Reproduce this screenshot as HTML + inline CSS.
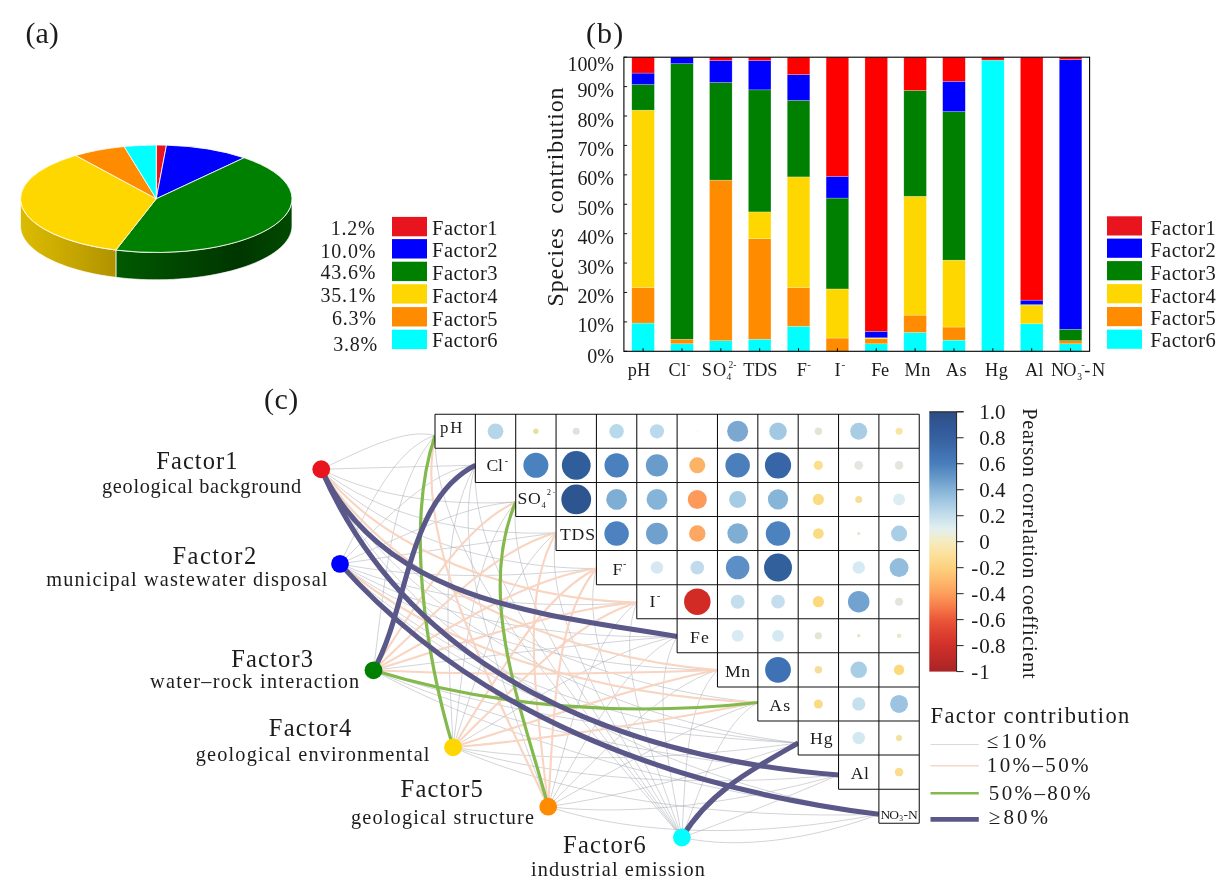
<!DOCTYPE html>
<html><head><meta charset="utf-8"><title>figure</title>
<style>html,body{margin:0;padding:0;background:#fff}svg{display:block;font-family:"Liberation Serif",serif;will-change:transform}</style></head>
<body>
<svg width="1224" height="884" viewBox="0 0 1224 884">
<rect width="1224" height="884" fill="#ffffff"/>
<text x="25.60" y="42.50" font-size="30" text-anchor="start" textLength="33.20" lengthAdjust="spacing" fill="#1c1c1c" >(a)</text>
<defs><linearGradient id="gy" gradientUnits="userSpaceOnUse" x1="20" y1="0" x2="116" y2="0"><stop offset="0" stop-color="#dcbc00"/><stop offset="0.5" stop-color="#c8a800"/><stop offset="1" stop-color="#b09200"/></linearGradient><linearGradient id="gg" gradientUnits="userSpaceOnUse" x1="116" y1="0" x2="292" y2="0"><stop offset="0" stop-color="#005a00"/><stop offset="0.35" stop-color="#004600"/><stop offset="0.7" stop-color="#003600"/><stop offset="1" stop-color="#004a00"/></linearGradient></defs>
<path d="M292.00,198.75 L291.85,201.27 L291.41,203.77 L290.66,206.27 L289.63,208.76 L288.30,211.22 L286.68,213.65 L284.78,216.05 L282.59,218.41 L280.13,220.73 L277.40,223.00 L274.40,225.22 L271.14,227.38 L267.63,229.48 L263.88,231.51 L259.89,233.46 L255.67,235.35 L251.24,237.15 L246.60,238.87 L241.76,240.50 L236.73,242.04 L231.53,243.48 L226.16,244.82 L220.64,246.07 L214.97,247.21 L209.18,248.25 L203.28,249.17 L197.27,249.99 L191.16,250.69 L184.99,251.28 L178.75,251.76 L172.46,252.12 L166.14,252.36 L159.79,252.48 L153.44,252.49 L147.09,252.38 L140.76,252.15 L134.47,251.80 L128.22,251.34 L122.04,250.76 L115.93,250.07 L115.93,277.37 L122.04,278.06 L128.22,278.64 L134.47,279.10 L140.76,279.45 L147.09,279.68 L153.44,279.79 L159.79,279.78 L166.14,279.66 L172.46,279.42 L178.75,279.06 L184.99,278.58 L191.16,277.99 L197.27,277.29 L203.28,276.47 L209.18,275.55 L214.97,274.51 L220.64,273.37 L226.16,272.12 L231.53,270.78 L236.73,269.34 L241.76,267.80 L246.60,266.17 L251.24,264.45 L255.67,262.65 L259.89,260.76 L263.88,258.81 L267.63,256.78 L271.14,254.68 L274.40,252.52 L277.40,250.30 L280.13,248.03 L282.59,245.71 L284.78,243.35 L286.68,240.95 L288.30,238.52 L289.63,236.06 L290.66,233.57 L291.41,231.07 L291.85,228.57 L292.00,226.05Z" fill="url(#gg)" stroke="#ffffff" stroke-width="0.7" stroke-linejoin="round"/>
<path d="M115.93,250.07 L111.83,249.54 L107.79,248.96 L103.79,248.32 L99.84,247.64 L95.95,246.91 L92.13,246.13 L88.36,245.30 L84.67,244.42 L81.04,243.50 L77.50,242.53 L74.03,241.52 L70.64,240.46 L67.34,239.37 L64.13,238.23 L61.02,237.05 L58.00,235.84 L55.07,234.59 L52.25,233.30 L49.54,231.97 L46.93,230.62 L44.43,229.23 L42.05,227.81 L39.77,226.36 L37.62,224.88 L35.59,223.38 L33.68,221.85 L31.89,220.30 L30.22,218.72 L28.69,217.13 L27.28,215.52 L26.00,213.89 L24.85,212.25 L23.83,210.59 L22.95,208.92 L22.20,207.24 L21.59,205.55 L21.11,203.86 L20.77,202.16 L20.57,200.46 L20.50,198.75 L20.50,226.05 L20.57,227.76 L20.77,229.46 L21.11,231.16 L21.59,232.85 L22.20,234.54 L22.95,236.22 L23.83,237.89 L24.85,239.55 L26.00,241.19 L27.28,242.82 L28.69,244.43 L30.22,246.02 L31.89,247.60 L33.68,249.15 L35.59,250.68 L37.62,252.18 L39.77,253.66 L42.05,255.11 L44.43,256.53 L46.93,257.92 L49.54,259.27 L52.25,260.60 L55.07,261.89 L58.00,263.14 L61.02,264.35 L64.13,265.53 L67.34,266.67 L70.64,267.76 L74.03,268.82 L77.50,269.83 L81.04,270.80 L84.67,271.72 L88.36,272.60 L92.13,273.43 L95.95,274.21 L99.84,274.94 L103.79,275.62 L107.79,276.26 L111.83,276.84 L115.93,277.37Z" fill="url(#gy)" stroke="#ffffff" stroke-width="0.7" stroke-linejoin="round"/>
<path d="M156.25,198.75 L156.25,145.00 A135.75,53.75 0 0 1 166.48,145.15 Z" fill="#e8141e" stroke="#ffffff" stroke-width="0.8" stroke-linejoin="round"/>
<path d="M156.25,198.75 L166.48,145.15 A135.75,53.75 0 0 1 244.09,157.77 Z" fill="#0000ff" stroke="#ffffff" stroke-width="0.8" stroke-linejoin="round"/>
<path d="M156.25,198.75 L244.09,157.77 A135.75,53.75 0 0 1 115.93,250.07 Z" fill="#008000" stroke="#ffffff" stroke-width="0.8" stroke-linejoin="round"/>
<path d="M156.25,198.75 L115.93,250.07 A135.75,53.75 0 0 1 75.77,155.46 Z" fill="#ffd700" stroke="#ffffff" stroke-width="0.8" stroke-linejoin="round"/>
<path d="M156.25,198.75 L75.77,155.46 A135.75,53.75 0 0 1 124.15,146.52 Z" fill="#ff8c00" stroke="#ffffff" stroke-width="0.8" stroke-linejoin="round"/>
<path d="M156.25,198.75 L124.15,146.52 A135.75,53.75 0 0 1 156.25,145.00 Z" fill="#00ffff" stroke="#ffffff" stroke-width="0.8" stroke-linejoin="round"/>
<rect x="392" y="216.9" width="35" height="19.4" fill="#e8141e"/>
<text x="432.00" y="234.80" font-size="20.5" text-anchor="start" textLength="65.50" lengthAdjust="spacing" fill="#1c1c1c" >Factor1</text>
<text x="375.50" y="235.10" font-size="20" text-anchor="end" fill="#1c1c1c" letter-spacing="0.8">1.2%</text>
<rect x="392" y="239.1" width="35" height="19.4" fill="#0000ff"/>
<text x="432.00" y="257.30" font-size="20.5" text-anchor="start" textLength="65.50" lengthAdjust="spacing" fill="#1c1c1c" >Factor2</text>
<text x="376.20" y="258.30" font-size="20" text-anchor="end" fill="#1c1c1c" letter-spacing="0.8">10.0%</text>
<rect x="392" y="261.7" width="35" height="19.4" fill="#008000"/>
<text x="432.00" y="280.40" font-size="20.5" text-anchor="start" textLength="65.50" lengthAdjust="spacing" fill="#1c1c1c" >Factor3</text>
<text x="376.20" y="279.00" font-size="20" text-anchor="end" fill="#1c1c1c" letter-spacing="0.8">43.6%</text>
<rect x="392" y="284.2" width="35" height="19.4" fill="#ffd700"/>
<text x="432.00" y="303.00" font-size="20.5" text-anchor="start" textLength="65.50" lengthAdjust="spacing" fill="#1c1c1c" >Factor4</text>
<text x="376.20" y="302.00" font-size="20" text-anchor="end" fill="#1c1c1c" letter-spacing="0.8">35.1%</text>
<rect x="392" y="307.1" width="35" height="19.4" fill="#ff8c00"/>
<text x="432.00" y="325.50" font-size="20.5" text-anchor="start" textLength="65.50" lengthAdjust="spacing" fill="#1c1c1c" >Factor5</text>
<text x="376.80" y="325.00" font-size="20" text-anchor="end" fill="#1c1c1c" letter-spacing="0.8">6.3%</text>
<rect x="392" y="329.7" width="35" height="19.4" fill="#00ffff"/>
<text x="432.00" y="346.80" font-size="20.5" text-anchor="start" textLength="65.50" lengthAdjust="spacing" fill="#1c1c1c" >Factor6</text>
<text x="378.00" y="351.00" font-size="20" text-anchor="end" fill="#1c1c1c" letter-spacing="0.8">3.8%</text>
<text x="586.00" y="42.50" font-size="30" text-anchor="start" textLength="37.20" lengthAdjust="spacing" fill="#1c1c1c" >(b)</text>
<rect x="631.80" y="323.07" width="22.6" height="28.23" fill="#00ffff" stroke="#ffffff" stroke-opacity="0.45" stroke-width="0.5"/>
<rect x="631.80" y="287.48" width="22.6" height="35.59" fill="#ff8c00" stroke="#ffffff" stroke-opacity="0.45" stroke-width="0.5"/>
<rect x="631.80" y="110.14" width="22.6" height="177.34" fill="#ffd700" stroke="#ffffff" stroke-opacity="0.45" stroke-width="0.5"/>
<rect x="631.80" y="84.55" width="22.6" height="25.59" fill="#008000" stroke="#ffffff" stroke-opacity="0.45" stroke-width="0.5"/>
<rect x="631.80" y="73.08" width="22.6" height="11.47" fill="#0000ff" stroke="#ffffff" stroke-opacity="0.45" stroke-width="0.5"/>
<rect x="631.80" y="57.20" width="22.6" height="15.88" fill="#ff0000" stroke="#ffffff" stroke-opacity="0.45" stroke-width="0.5"/>
<line x1="643.10" y1="351.3" x2="643.10" y2="348.1" stroke="#000" stroke-width="0.9"/>
<rect x="670.66" y="343.80" width="22.6" height="7.50" fill="#00ffff" stroke="#ffffff" stroke-opacity="0.45" stroke-width="0.5"/>
<rect x="670.66" y="339.24" width="22.6" height="4.56" fill="#ff8c00" stroke="#ffffff" stroke-opacity="0.45" stroke-width="0.5"/>
<rect x="670.66" y="63.67" width="22.6" height="275.57" fill="#008000" stroke="#ffffff" stroke-opacity="0.45" stroke-width="0.5"/>
<rect x="670.66" y="57.20" width="22.6" height="6.47" fill="#0000ff" stroke="#ffffff" stroke-opacity="0.45" stroke-width="0.5"/>
<line x1="681.96" y1="351.3" x2="681.96" y2="348.1" stroke="#000" stroke-width="0.9"/>
<rect x="709.52" y="340.71" width="22.6" height="10.59" fill="#00ffff" stroke="#ffffff" stroke-opacity="0.45" stroke-width="0.5"/>
<rect x="709.52" y="180.13" width="22.6" height="160.58" fill="#ff8c00" stroke="#ffffff" stroke-opacity="0.45" stroke-width="0.5"/>
<rect x="709.52" y="82.49" width="22.6" height="97.64" fill="#008000" stroke="#ffffff" stroke-opacity="0.45" stroke-width="0.5"/>
<rect x="709.52" y="60.44" width="22.6" height="22.06" fill="#0000ff" stroke="#ffffff" stroke-opacity="0.45" stroke-width="0.5"/>
<rect x="709.52" y="57.20" width="22.6" height="3.24" fill="#ff0000" stroke="#ffffff" stroke-opacity="0.45" stroke-width="0.5"/>
<line x1="720.82" y1="351.3" x2="720.82" y2="348.1" stroke="#000" stroke-width="0.9"/>
<rect x="748.38" y="339.24" width="22.6" height="12.06" fill="#00ffff" stroke="#ffffff" stroke-opacity="0.45" stroke-width="0.5"/>
<rect x="748.38" y="238.66" width="22.6" height="100.58" fill="#ff8c00" stroke="#ffffff" stroke-opacity="0.45" stroke-width="0.5"/>
<rect x="748.38" y="211.90" width="22.6" height="26.76" fill="#ffd700" stroke="#ffffff" stroke-opacity="0.45" stroke-width="0.5"/>
<rect x="748.38" y="89.85" width="22.6" height="122.05" fill="#008000" stroke="#ffffff" stroke-opacity="0.45" stroke-width="0.5"/>
<rect x="748.38" y="60.44" width="22.6" height="29.41" fill="#0000ff" stroke="#ffffff" stroke-opacity="0.45" stroke-width="0.5"/>
<rect x="748.38" y="57.20" width="22.6" height="3.24" fill="#ff0000" stroke="#ffffff" stroke-opacity="0.45" stroke-width="0.5"/>
<line x1="759.68" y1="351.3" x2="759.68" y2="348.1" stroke="#000" stroke-width="0.9"/>
<rect x="787.24" y="326.30" width="22.6" height="25.00" fill="#00ffff" stroke="#ffffff" stroke-opacity="0.45" stroke-width="0.5"/>
<rect x="787.24" y="287.48" width="22.6" height="38.82" fill="#ff8c00" stroke="#ffffff" stroke-opacity="0.45" stroke-width="0.5"/>
<rect x="787.24" y="176.90" width="22.6" height="110.58" fill="#ffd700" stroke="#ffffff" stroke-opacity="0.45" stroke-width="0.5"/>
<rect x="787.24" y="100.43" width="22.6" height="76.47" fill="#008000" stroke="#ffffff" stroke-opacity="0.45" stroke-width="0.5"/>
<rect x="787.24" y="74.55" width="22.6" height="25.88" fill="#0000ff" stroke="#ffffff" stroke-opacity="0.45" stroke-width="0.5"/>
<rect x="787.24" y="57.20" width="22.6" height="17.35" fill="#ff0000" stroke="#ffffff" stroke-opacity="0.45" stroke-width="0.5"/>
<line x1="798.54" y1="351.3" x2="798.54" y2="348.1" stroke="#000" stroke-width="0.9"/>
<rect x="826.10" y="338.07" width="22.6" height="13.23" fill="#ff8c00" stroke="#ffffff" stroke-opacity="0.45" stroke-width="0.5"/>
<rect x="826.10" y="288.95" width="22.6" height="49.11" fill="#ffd700" stroke="#ffffff" stroke-opacity="0.45" stroke-width="0.5"/>
<rect x="826.10" y="198.07" width="22.6" height="90.88" fill="#008000" stroke="#ffffff" stroke-opacity="0.45" stroke-width="0.5"/>
<rect x="826.10" y="176.31" width="22.6" height="21.76" fill="#0000ff" stroke="#ffffff" stroke-opacity="0.45" stroke-width="0.5"/>
<rect x="826.10" y="57.20" width="22.6" height="119.11" fill="#ff0000" stroke="#ffffff" stroke-opacity="0.45" stroke-width="0.5"/>
<line x1="837.40" y1="351.3" x2="837.40" y2="348.1" stroke="#000" stroke-width="0.9"/>
<rect x="864.96" y="343.80" width="22.6" height="7.50" fill="#00ffff" stroke="#ffffff" stroke-opacity="0.45" stroke-width="0.5"/>
<rect x="864.96" y="338.80" width="22.6" height="5.00" fill="#ff8c00" stroke="#ffffff" stroke-opacity="0.45" stroke-width="0.5"/>
<rect x="864.96" y="337.77" width="22.6" height="1.03" fill="#ffd700" stroke="#ffffff" stroke-opacity="0.45" stroke-width="0.5"/>
<rect x="864.96" y="331.30" width="22.6" height="6.47" fill="#0000ff" stroke="#ffffff" stroke-opacity="0.45" stroke-width="0.5"/>
<rect x="864.96" y="57.20" width="22.6" height="274.10" fill="#ff0000" stroke="#ffffff" stroke-opacity="0.45" stroke-width="0.5"/>
<line x1="876.26" y1="351.3" x2="876.26" y2="348.1" stroke="#000" stroke-width="0.9"/>
<rect x="903.82" y="332.48" width="22.6" height="18.82" fill="#00ffff" stroke="#ffffff" stroke-opacity="0.45" stroke-width="0.5"/>
<rect x="903.82" y="315.13" width="22.6" height="17.35" fill="#ff8c00" stroke="#ffffff" stroke-opacity="0.45" stroke-width="0.5"/>
<rect x="903.82" y="196.31" width="22.6" height="118.82" fill="#ffd700" stroke="#ffffff" stroke-opacity="0.45" stroke-width="0.5"/>
<rect x="903.82" y="90.43" width="22.6" height="105.88" fill="#008000" stroke="#ffffff" stroke-opacity="0.45" stroke-width="0.5"/>
<rect x="903.82" y="57.20" width="22.6" height="33.23" fill="#ff0000" stroke="#ffffff" stroke-opacity="0.45" stroke-width="0.5"/>
<line x1="915.12" y1="351.3" x2="915.12" y2="348.1" stroke="#000" stroke-width="0.9"/>
<rect x="942.68" y="340.12" width="22.6" height="11.18" fill="#00ffff" stroke="#ffffff" stroke-opacity="0.45" stroke-width="0.5"/>
<rect x="942.68" y="327.04" width="22.6" height="13.09" fill="#ff8c00" stroke="#ffffff" stroke-opacity="0.45" stroke-width="0.5"/>
<rect x="942.68" y="260.13" width="22.6" height="66.91" fill="#ffd700" stroke="#ffffff" stroke-opacity="0.45" stroke-width="0.5"/>
<rect x="942.68" y="111.61" width="22.6" height="148.52" fill="#008000" stroke="#ffffff" stroke-opacity="0.45" stroke-width="0.5"/>
<rect x="942.68" y="81.32" width="22.6" height="30.29" fill="#0000ff" stroke="#ffffff" stroke-opacity="0.45" stroke-width="0.5"/>
<rect x="942.68" y="57.20" width="22.6" height="24.12" fill="#ff0000" stroke="#ffffff" stroke-opacity="0.45" stroke-width="0.5"/>
<line x1="953.98" y1="351.3" x2="953.98" y2="348.1" stroke="#000" stroke-width="0.9"/>
<rect x="981.54" y="60.14" width="22.6" height="291.16" fill="#00ffff" stroke="#ffffff" stroke-opacity="0.45" stroke-width="0.5"/>
<rect x="981.54" y="57.20" width="22.6" height="2.94" fill="#ff0000" stroke="#ffffff" stroke-opacity="0.45" stroke-width="0.5"/>
<line x1="992.84" y1="351.3" x2="992.84" y2="348.1" stroke="#000" stroke-width="0.9"/>
<rect x="1020.40" y="323.80" width="22.6" height="27.50" fill="#00ffff" stroke="#ffffff" stroke-opacity="0.45" stroke-width="0.5"/>
<rect x="1020.40" y="305.13" width="22.6" height="18.68" fill="#ffd700" stroke="#ffffff" stroke-opacity="0.45" stroke-width="0.5"/>
<rect x="1020.40" y="304.54" width="22.6" height="0.59" fill="#008000" stroke="#ffffff" stroke-opacity="0.45" stroke-width="0.5"/>
<rect x="1020.40" y="300.13" width="22.6" height="4.41" fill="#0000ff" stroke="#ffffff" stroke-opacity="0.45" stroke-width="0.5"/>
<rect x="1020.40" y="57.20" width="22.6" height="242.93" fill="#ff0000" stroke="#ffffff" stroke-opacity="0.45" stroke-width="0.5"/>
<line x1="1031.70" y1="351.3" x2="1031.70" y2="348.1" stroke="#000" stroke-width="0.9"/>
<rect x="1059.26" y="343.80" width="22.6" height="7.50" fill="#00ffff" stroke="#ffffff" stroke-opacity="0.45" stroke-width="0.5"/>
<rect x="1059.26" y="340.71" width="22.6" height="3.09" fill="#ff8c00" stroke="#ffffff" stroke-opacity="0.45" stroke-width="0.5"/>
<rect x="1059.26" y="329.24" width="22.6" height="11.47" fill="#008000" stroke="#ffffff" stroke-opacity="0.45" stroke-width="0.5"/>
<rect x="1059.26" y="59.55" width="22.6" height="269.69" fill="#0000ff" stroke="#ffffff" stroke-opacity="0.45" stroke-width="0.5"/>
<rect x="1059.26" y="57.20" width="22.6" height="2.35" fill="#ff0000" stroke="#ffffff" stroke-opacity="0.45" stroke-width="0.5"/>
<line x1="1070.56" y1="351.3" x2="1070.56" y2="348.1" stroke="#000" stroke-width="0.9"/>
<rect x="623.9" y="57.2" width="465.70" height="294.10" fill="none" stroke="#000" stroke-width="1.1"/>
<line x1="623.9" y1="351.30" x2="627.1" y2="351.30" stroke="#000" stroke-width="0.9"/>
<text x="613.80" y="362.50" font-size="20" text-anchor="end" fill="#1c1c1c" letter-spacing="-0.1">0%</text>
<line x1="623.9" y1="321.89" x2="627.1" y2="321.89" stroke="#000" stroke-width="0.9"/>
<text x="613.80" y="332.49" font-size="20" text-anchor="end" fill="#1c1c1c" letter-spacing="-0.1">10%</text>
<line x1="623.9" y1="292.48" x2="627.1" y2="292.48" stroke="#000" stroke-width="0.9"/>
<text x="613.80" y="303.08" font-size="20" text-anchor="end" fill="#1c1c1c" letter-spacing="-0.1">20%</text>
<line x1="623.9" y1="263.07" x2="627.1" y2="263.07" stroke="#000" stroke-width="0.9"/>
<text x="613.80" y="273.67" font-size="20" text-anchor="end" fill="#1c1c1c" letter-spacing="-0.1">30%</text>
<line x1="623.9" y1="233.66" x2="627.1" y2="233.66" stroke="#000" stroke-width="0.9"/>
<text x="613.80" y="244.26" font-size="20" text-anchor="end" fill="#1c1c1c" letter-spacing="-0.1">40%</text>
<line x1="623.9" y1="204.25" x2="627.1" y2="204.25" stroke="#000" stroke-width="0.9"/>
<text x="613.80" y="214.85" font-size="20" text-anchor="end" fill="#1c1c1c" letter-spacing="-0.1">50%</text>
<line x1="623.9" y1="174.84" x2="627.1" y2="174.84" stroke="#000" stroke-width="0.9"/>
<text x="613.80" y="185.44" font-size="20" text-anchor="end" fill="#1c1c1c" letter-spacing="-0.1">60%</text>
<line x1="623.9" y1="145.43" x2="627.1" y2="145.43" stroke="#000" stroke-width="0.9"/>
<text x="613.80" y="156.03" font-size="20" text-anchor="end" fill="#1c1c1c" letter-spacing="-0.1">70%</text>
<line x1="623.9" y1="116.02" x2="627.1" y2="116.02" stroke="#000" stroke-width="0.9"/>
<text x="613.80" y="126.62" font-size="20" text-anchor="end" fill="#1c1c1c" letter-spacing="-0.1">80%</text>
<line x1="623.9" y1="86.61" x2="627.1" y2="86.61" stroke="#000" stroke-width="0.9"/>
<text x="613.80" y="97.21" font-size="20" text-anchor="end" fill="#1c1c1c" letter-spacing="-0.1">90%</text>
<line x1="623.9" y1="57.20" x2="627.1" y2="57.20" stroke="#000" stroke-width="0.9"/>
<text x="613.80" y="70.50" font-size="20" text-anchor="end" fill="#1c1c1c" letter-spacing="-0.1">100%</text>
<text transform="translate(563.3,306.4) rotate(-90)" font-size="24" textLength="219.0" lengthAdjust="spacing" fill="#1c1c1c">Species&#160; contribution</text>
<text x="627.80" y="376.00" font-size="18.3" text-anchor="start" textLength="22.40" lengthAdjust="spacing" fill="#1c1c1c" >pH</text>
<text x="668.60" y="376.00" font-size="18.3" text-anchor="start" textLength="17.80" lengthAdjust="spacing" fill="#1c1c1c" >Cl</text>
<text x="686.80" y="367.50" font-size="11" text-anchor="start" fill="#1c1c1c" >-</text>
<text x="701.70" y="376.00" font-size="18.3" text-anchor="start" textLength="24.50" lengthAdjust="spacing" fill="#1c1c1c" >SO</text>
<text x="726.40" y="379.60" font-size="9.5" text-anchor="start" fill="#1c1c1c" >4</text>
<text x="728.60" y="368.00" font-size="9.5" text-anchor="start" fill="#1c1c1c" >2-</text>
<text x="743.20" y="376.00" font-size="18.3" text-anchor="start" textLength="34.10" lengthAdjust="spacing" fill="#1c1c1c" >TDS</text>
<text x="796.70" y="376.00" font-size="18.3" text-anchor="start" fill="#1c1c1c" >F</text>
<text x="807.20" y="367.50" font-size="11" text-anchor="start" fill="#1c1c1c" >-</text>
<text x="834.50" y="376.00" font-size="18.3" text-anchor="start" textLength="7.10" lengthAdjust="spacing" fill="#1c1c1c" >I</text>
<text x="841.40" y="367.50" font-size="11" text-anchor="start" fill="#1c1c1c" >-</text>
<text x="871.20" y="376.00" font-size="18.3" text-anchor="start" textLength="17.80" lengthAdjust="spacing" fill="#1c1c1c" >Fe</text>
<text x="904.50" y="376.00" font-size="18.3" text-anchor="start" textLength="26.00" lengthAdjust="spacing" fill="#1c1c1c" >Mn</text>
<text x="945.80" y="376.00" font-size="18.3" text-anchor="start" textLength="20.80" lengthAdjust="spacing" fill="#1c1c1c" >As</text>
<text x="985.00" y="376.00" font-size="18.3" text-anchor="start" textLength="23.00" lengthAdjust="spacing" fill="#1c1c1c" >Hg</text>
<text x="1025.00" y="376.00" font-size="18.3" text-anchor="start" textLength="18.40" lengthAdjust="spacing" fill="#1c1c1c" >Al</text>
<text x="1051.00" y="376.00" font-size="18.3" text-anchor="start" textLength="25.50" lengthAdjust="spacing" fill="#1c1c1c" >NO</text>
<text x="1077.30" y="379.60" font-size="9.5" text-anchor="start" fill="#1c1c1c" >3</text>
<text x="1081.20" y="367.50" font-size="11" text-anchor="start" fill="#1c1c1c" >-</text>
<text x="1084.30" y="376.00" font-size="18.3" text-anchor="start" textLength="20.80" lengthAdjust="spacing" fill="#1c1c1c" >-N</text>
<rect x="1107" y="216.3" width="35" height="19.2" fill="#e8141e"/>
<text x="1150.20" y="234.70" font-size="20.5" text-anchor="start" textLength="65.60" lengthAdjust="spacing" fill="#1c1c1c" >Factor1</text>
<rect x="1107" y="238.6" width="35" height="19.2" fill="#0000ff"/>
<text x="1150.20" y="257.30" font-size="20.5" text-anchor="start" textLength="65.60" lengthAdjust="spacing" fill="#1c1c1c" >Factor2</text>
<rect x="1107" y="261.1" width="35" height="19.2" fill="#008000"/>
<text x="1150.20" y="280.40" font-size="20.5" text-anchor="start" textLength="65.60" lengthAdjust="spacing" fill="#1c1c1c" >Factor3</text>
<rect x="1107" y="284.1" width="35" height="19.2" fill="#ffd700"/>
<text x="1150.20" y="302.90" font-size="20.5" text-anchor="start" textLength="65.60" lengthAdjust="spacing" fill="#1c1c1c" >Factor4</text>
<rect x="1107" y="307.0" width="35" height="19.2" fill="#ff8c00"/>
<text x="1150.20" y="325.40" font-size="20.5" text-anchor="start" textLength="65.60" lengthAdjust="spacing" fill="#1c1c1c" >Factor5</text>
<rect x="1107" y="329.6" width="35" height="19.2" fill="#00ffff"/>
<text x="1150.20" y="346.60" font-size="20.5" text-anchor="start" textLength="65.60" lengthAdjust="spacing" fill="#1c1c1c" >Factor6</text>
<text x="264.00" y="408.50" font-size="30" text-anchor="start" textLength="34.30" lengthAdjust="spacing" fill="#1c1c1c" >(c)</text>
<g fill="none" stroke="#a6a9b0" stroke-width="0.5" stroke-linecap="butt">
<path d="M321.2,469.2 C366.4,448.1 405.0,428.1 435.0,435.5"/>
<path d="M321.2,469.2 C386.0,467.5 435.3,466.2 475.4,465.2"/>
<path d="M321.2,469.2 C373.7,496.5 444.8,506.2 515.7,502.0"/>
<path d="M321.2,469.2 C377.8,515.5 468.6,536.4 556.1,532.8"/>
<path d="M321.2,469.2 C380.4,534.1 491.1,569.0 596.4,568.5"/>
<path d="M321.2,469.2 C396.1,597.5 580.4,686.3 757.8,702.5"/>
<path d="M321.2,469.2 C398.8,614.9 601.5,720.2 798.2,743.0"/>
<path d="M321.2,469.2 C406.5,646.5 645.2,780.8 878.9,814.3"/>
<path d="M340.0,563.9 C369.8,503.8 395.4,448.0 435.0,435.5"/>
<path d="M340.0,563.9 C389.9,514.3 432.0,469.2 475.4,465.2"/>
<path d="M340.0,563.9 C411.5,532.0 467.3,504.5 515.7,502.0"/>
<path d="M340.0,563.9 C430.7,550.7 499.9,540.6 556.1,532.8"/>
<path d="M340.0,563.9 C415.5,578.5 504.6,578.4 596.4,568.5"/>
<path d="M340.0,563.9 C422.6,599.1 529.3,609.9 636.8,602.5"/>
<path d="M340.0,563.9 C428.5,617.4 553.0,639.9 677.1,636.4"/>
<path d="M340.0,563.9 C434.3,634.2 576.3,668.8 717.5,670.0"/>
<path d="M340.0,563.9 C444.8,667.8 621.6,729.4 798.2,743.0"/>
<path d="M340.0,563.9 C451.0,682.5 644.6,755.9 838.6,775.0"/>
<path d="M373.5,670.3 C386.1,569.1 393.2,482.8 435.0,435.5"/>
<path d="M373.5,670.3 C500.8,654.6 597.9,642.0 677.1,636.4"/>
<path d="M373.5,670.3 C495.8,712.2 643.3,734.8 798.2,743.0"/>
<path d="M373.5,670.3 C504.6,727.4 667.6,760.5 838.6,775.0"/>
<path d="M373.5,670.3 C512.3,745.0 691.1,791.5 878.9,814.3"/>
<path d="M453.1,747.3 C447.6,628.6 438.6,528.9 475.4,465.2"/>
<path d="M453.1,747.3 C466.3,641.8 473.6,552.6 515.7,502.0"/>
<path d="M453.1,747.3 C484.9,652.5 508.1,571.8 556.1,532.8"/>
<path d="M453.1,747.3 C543.3,693.6 613.2,648.3 677.1,636.4"/>
<path d="M453.1,747.3 C555.3,763.6 675.1,759.8 798.2,743.0"/>
<path d="M453.1,747.3 C564.1,780.9 700.0,787.4 838.6,775.0"/>
<path d="M453.1,747.3 C571.4,799.5 723.8,819.2 878.9,814.3"/>
<path d="M548.2,806.7 C497.8,669.0 449.5,552.2 475.4,465.2"/>
<path d="M548.2,806.7 C573.2,716.6 591.5,638.5 636.8,602.5"/>
<path d="M548.2,806.7 C592.5,728.7 627.3,661.0 677.1,636.4"/>
<path d="M548.2,806.7 C612.9,742.2 663.6,687.2 717.5,670.0"/>
<path d="M548.2,806.7 C634.2,759.1 699.7,720.7 757.8,702.5"/>
<path d="M548.2,806.7 C624.8,795.5 710.2,772.7 798.2,743.0"/>
<path d="M548.2,806.7 C635.3,816.7 737.3,803.1 838.6,775.0"/>
<path d="M548.2,806.7 C642.5,837.6 762.0,836.8 878.9,814.3"/>
<path d="M681.9,837.5 C553.2,686.9 434.6,558.2 435.0,435.5"/>
<path d="M681.9,837.5 C571.9,696.5 470.1,575.8 475.4,465.2"/>
<path d="M681.9,837.5 C591.0,709.2 506.5,598.9 515.7,502.0"/>
<path d="M681.9,837.5 C609.8,719.3 542.2,617.4 556.1,532.8"/>
<path d="M681.9,837.5 C628.8,731.5 578.5,639.7 596.4,568.5"/>
<path d="M681.9,837.5 C647.8,743.0 614.6,660.6 636.8,602.5"/>
<path d="M681.9,837.5 C666.8,754.4 650.6,681.5 677.1,636.4"/>
<path d="M681.9,837.5 C685.7,765.7 686.7,702.2 717.5,670.0"/>
<path d="M681.9,837.5 C704.7,776.6 722.7,722.2 757.8,702.5"/>
<path d="M681.9,837.5 C729.5,820.4 782.8,798.9 838.6,775.0"/>
<path d="M681.9,837.5 C740.1,850.0 812.0,839.2 878.9,814.3"/>
</g>
<g fill="none" stroke="#f8d4c1" stroke-width="2.1" stroke-linecap="butt">
<path d="M321.2,469.2 C383.9,550.7 513.5,599.2 636.8,602.5"/>
<path d="M321.2,469.2 C391.8,582.3 558.0,658.1 717.5,670.0"/>
<path d="M340.0,563.9 C440.3,649.8 599.5,696.3 757.8,702.5"/>
<path d="M373.5,670.3 C424.0,592.8 463.6,525.9 515.7,502.0"/>
<path d="M373.5,670.3 C443.3,604.4 498.6,547.7 556.1,532.8"/>
<path d="M373.5,670.3 C463.2,619.9 533.2,576.8 596.4,568.5"/>
<path d="M373.5,670.3 C482.6,636.6 566.3,608.3 636.8,602.5"/>
<path d="M373.5,670.3 C476.6,675.3 593.7,674.6 717.5,670.0"/>
<path d="M453.1,747.3 C503.8,665.5 543.2,595.3 596.4,568.5"/>
<path d="M453.1,747.3 C523.2,678.5 578.4,619.4 636.8,602.5"/>
<path d="M453.1,747.3 C563.2,711.9 647.2,683.5 717.5,670.0"/>
<path d="M453.1,747.3 C545.2,739.4 648.9,723.4 757.8,702.5"/>
<path d="M548.2,806.7 C479.2,659.0 414.6,534.3 435.0,435.5"/>
<path d="M548.2,806.7 C535.3,692.3 520.2,594.3 556.1,532.8"/>
<path d="M548.2,806.7 C554.3,704.8 555.8,617.0 596.4,568.5"/>
</g>
<g fill="none" stroke="#84b94d" stroke-width="3.2" stroke-linecap="butt">
<path d="M373.5,670.3 C495.7,708.2 631.0,716.7 757.8,702.5"/>
<path d="M453.1,747.3 C426.5,658.6 404.8,525.1 435.0,435.5"/>
<path d="M548.2,806.7 C523.5,713.0 475.2,597.3 515.7,502.0"/>
</g>
<g fill="none" stroke="#5a5789" stroke-width="5.1" stroke-linecap="butt">
<path d="M321.2,469.2 C383.9,603.3 548.9,614.9 677.1,636.4"/>
<path d="M321.2,469.2 C411.5,676.6 626.2,757.9 838.6,775.0"/>
<path d="M340.0,563.9 C479.5,719.8 676.3,788.4 878.9,814.3"/>
<path d="M373.5,670.3 C408.9,608.6 406.2,500.1 475.4,465.2"/>
<path d="M681.9,837.5 C709.8,791.1 753.1,768.8 798.2,743.0"/>
</g>
<path d="M435.00,414.25 L435.00,448.33 L475.35,448.33 L475.35,482.42 L515.71,482.42 L515.71,516.50 L556.06,516.50 L556.06,550.58 L596.42,550.58 L596.42,584.66 L636.77,584.66 L636.77,618.75 L677.12,618.75 L677.12,652.83 L717.48,652.83 L717.48,686.91 L757.83,686.91 L757.83,721.00 L798.19,721.00 L798.19,755.08 L838.54,755.08 L838.54,789.16 L878.89,789.16 L878.89,823.25 L919.25,823.25 L919.25,414.25Z" fill="#ffffff"/>
<circle cx="495.53" cy="431.29" r="7.9" fill="#b5d5e8"/>
<circle cx="535.88" cy="431.29" r="2.7" fill="#e6e0a0"/>
<circle cx="576.24" cy="431.29" r="3.5" fill="#e0e1df"/>
<circle cx="616.59" cy="431.29" r="7.2" fill="#b8d8ec"/>
<circle cx="656.95" cy="431.29" r="7.1" fill="#bad9ec"/>
<circle cx="697.30" cy="431.29" r="0.6" fill="#eeeeea"/>
<circle cx="737.65" cy="431.29" r="10.5" fill="#7ba7d1"/>
<circle cx="778.01" cy="431.29" r="8.75" fill="#a3c8e2"/>
<circle cx="818.36" cy="431.29" r="3.7" fill="#e2e4d4"/>
<circle cx="858.72" cy="431.29" r="8.5" fill="#a9cde5"/>
<circle cx="899.07" cy="431.29" r="3.5" fill="#fbe3a0"/>
<circle cx="535.88" cy="465.37" r="12.5" fill="#4a82c0"/>
<circle cx="576.24" cy="465.37" r="14.4" fill="#2f5e9b"/>
<circle cx="616.59" cy="465.37" r="12.1" fill="#4a80bd"/>
<circle cx="656.95" cy="465.37" r="11.1" fill="#6a9ccb"/>
<circle cx="697.30" cy="465.37" r="8.0" fill="#fdb365"/>
<circle cx="737.65" cy="465.37" r="12.25" fill="#4a7fbc"/>
<circle cx="778.01" cy="465.37" r="13.1" fill="#3765a8"/>
<circle cx="818.36" cy="465.37" r="4.6" fill="#fbde8e"/>
<circle cx="858.72" cy="465.37" r="4.4" fill="#e3e7e0"/>
<circle cx="899.07" cy="465.37" r="4.25" fill="#e4e5dc"/>
<circle cx="576.24" cy="499.46" r="14.9" fill="#2d5690"/>
<circle cx="616.59" cy="499.46" r="10.4" fill="#7faed4"/>
<circle cx="656.95" cy="499.46" r="10.4" fill="#86b4d8"/>
<circle cx="697.30" cy="499.46" r="9.5" fill="#fd9a5a"/>
<circle cx="737.65" cy="499.46" r="8.5" fill="#a6cbe4"/>
<circle cx="778.01" cy="499.46" r="10.1" fill="#86b5d8"/>
<circle cx="818.36" cy="499.46" r="5.6" fill="#fbdc82"/>
<circle cx="858.72" cy="499.46" r="3.5" fill="#f6de96"/>
<circle cx="899.07" cy="499.46" r="5.9" fill="#dcedf3"/>
<circle cx="616.59" cy="533.54" r="12.25" fill="#4b82bf"/>
<circle cx="656.95" cy="533.54" r="10.9" fill="#6fa0ce"/>
<circle cx="697.30" cy="533.54" r="8.25" fill="#fda762"/>
<circle cx="737.65" cy="533.54" r="10.25" fill="#7faed5"/>
<circle cx="778.01" cy="533.54" r="12.25" fill="#4c82be"/>
<circle cx="818.36" cy="533.54" r="5.4" fill="#fbdc85"/>
<circle cx="858.72" cy="533.54" r="1.5" fill="#e8e4c0"/>
<circle cx="899.07" cy="533.54" r="8.0" fill="#a9cee5"/>
<circle cx="656.95" cy="567.62" r="6.25" fill="#d4e8f2"/>
<circle cx="697.30" cy="567.62" r="6.9" fill="#c0dcec"/>
<circle cx="737.65" cy="567.62" r="11.75" fill="#5b8fc5"/>
<circle cx="778.01" cy="567.62" r="14.0" fill="#32609c"/>
<circle cx="858.72" cy="567.62" r="6.25" fill="#d6eaf3"/>
<circle cx="899.07" cy="567.62" r="9.5" fill="#92bddc"/>
<circle cx="697.30" cy="601.71" r="13.25" fill="#d22b26"/>
<circle cx="737.65" cy="601.71" r="7.0" fill="#c4deee"/>
<circle cx="778.01" cy="601.71" r="6.9" fill="#c4deee"/>
<circle cx="818.36" cy="601.71" r="5.6" fill="#fcd97e"/>
<circle cx="858.72" cy="601.71" r="10.75" fill="#72a2cf"/>
<circle cx="899.07" cy="601.71" r="4.0" fill="#e2e5dc"/>
<circle cx="737.65" cy="635.79" r="6.0" fill="#d8eaf3"/>
<circle cx="778.01" cy="635.79" r="5.9" fill="#d5e9f0"/>
<circle cx="818.36" cy="635.79" r="3.6" fill="#e3e5d3"/>
<circle cx="858.72" cy="635.79" r="1.75" fill="#e5e3c5"/>
<circle cx="899.07" cy="635.79" r="2.2" fill="#eae6c0"/>
<circle cx="778.01" cy="669.87" r="12.9" fill="#3e72b5"/>
<circle cx="818.36" cy="669.87" r="3.75" fill="#f3df9a"/>
<circle cx="858.72" cy="669.87" r="8.25" fill="#a8cee6"/>
<circle cx="899.07" cy="669.87" r="5.25" fill="#fcda7c"/>
<circle cx="818.36" cy="703.96" r="4.5" fill="#fadb85"/>
<circle cx="858.72" cy="703.96" r="6.6" fill="#c6e0ee"/>
<circle cx="899.07" cy="703.96" r="9.0" fill="#9cc4e0"/>
<circle cx="858.72" cy="738.04" r="6.25" fill="#d3e8f1"/>
<circle cx="899.07" cy="738.04" r="3.1" fill="#f2e0a0"/>
<circle cx="899.07" cy="772.12" r="4.25" fill="#f9dd8c"/>
<path d="M435.00,414.25H919.25 M435.00,448.33H919.25 M475.35,482.42H919.25 M515.71,516.50H919.25 M556.06,550.58H919.25 M596.42,584.66H919.25 M636.77,618.75H919.25 M677.12,652.83H919.25 M717.48,686.91H919.25 M757.83,721.00H919.25 M798.19,755.08H919.25 M838.54,789.16H919.25 M878.89,823.25H919.25 M435.00,414.25V448.33 M475.35,414.25V482.42 M515.71,414.25V516.50 M556.06,414.25V550.58 M596.42,414.25V584.66 M636.77,414.25V618.75 M677.12,414.25V652.83 M717.48,414.25V686.91 M757.83,414.25V721.00 M798.19,414.25V755.08 M838.54,414.25V789.16 M878.89,414.25V823.25 M919.25,414.25V823.25" fill="none" stroke="#111" stroke-width="1.05"/>
<text x="440.00" y="433.40" font-size="16.8" text-anchor="start" textLength="22.40" lengthAdjust="spacing" fill="#1c1c1c" >pH</text>
<text x="486.50" y="471.40" font-size="17.7" text-anchor="start" textLength="16.50" lengthAdjust="spacing" fill="#1c1c1c" >Cl</text>
<text x="504.80" y="463.60" font-size="10" text-anchor="start" fill="#1c1c1c" >-</text>
<text x="517.40" y="504.40" font-size="17.7" text-anchor="start" textLength="23.30" lengthAdjust="spacing" fill="#1c1c1c" >SO</text>
<text x="541.60" y="507.90" font-size="8.5" text-anchor="start" fill="#1c1c1c" >4</text>
<text x="546.80" y="494.80" font-size="8.5" text-anchor="start" fill="#1c1c1c" >2</text>
<text x="552.40" y="494.80" font-size="8.5" text-anchor="start" fill="#888" >-</text>
<text x="560.00" y="539.50" font-size="17.7" text-anchor="start" textLength="35.00" lengthAdjust="spacing" fill="#1c1c1c" >TDS</text>
<text x="612.50" y="575.00" font-size="17.7" text-anchor="start" fill="#1c1c1c" >F</text>
<text x="623.00" y="567.00" font-size="10" text-anchor="start" fill="#1c1c1c" >-</text>
<text x="649.50" y="606.80" font-size="17.7" text-anchor="start" textLength="6.60" lengthAdjust="spacing" fill="#1c1c1c" >I</text>
<text x="657.00" y="599.00" font-size="10" text-anchor="start" fill="#1c1c1c" >-</text>
<text x="690.00" y="643.00" font-size="17.7" text-anchor="start" textLength="18.80" lengthAdjust="spacing" fill="#1c1c1c" >Fe</text>
<text x="725.00" y="677.00" font-size="17.7" text-anchor="start" textLength="25.20" lengthAdjust="spacing" fill="#1c1c1c" >Mn</text>
<text x="769.30" y="711.30" font-size="17.7" text-anchor="start" textLength="20.80" lengthAdjust="spacing" fill="#1c1c1c" >As</text>
<text x="810.00" y="744.30" font-size="17.7" text-anchor="start" textLength="22.60" lengthAdjust="spacing" fill="#1c1c1c" >Hg</text>
<text x="850.80" y="779.30" font-size="17.7" text-anchor="start" textLength="18.00" lengthAdjust="spacing" fill="#1c1c1c" >Al</text>
<text x="880.40" y="818.80" font-size="13.5" text-anchor="start" textLength="18.60" lengthAdjust="spacing" fill="#1c1c1c" >NO</text>
<text x="899.30" y="821.20" font-size="7.5" text-anchor="start" fill="#1c1c1c" >3</text>
<text x="903.60" y="818.80" font-size="13.5" text-anchor="start" fill="#1c1c1c" >-N</text>
<circle cx="321.25" cy="469.25" r="8.9" fill="#e8141e"/>
<circle cx="340.0" cy="563.9" r="8.9" fill="#0000ff"/>
<circle cx="373.5" cy="670.3" r="8.9" fill="#008000"/>
<circle cx="453.1" cy="747.3" r="8.9" fill="#ffd700"/>
<circle cx="548.2" cy="806.7" r="8.9" fill="#ff8c00"/>
<circle cx="681.9" cy="837.5" r="8.9" fill="#00ffff"/>
<text x="156.25" y="468.75" font-size="24.5" text-anchor="start" textLength="81.25" lengthAdjust="spacing" fill="#1c1c1c" >Factor1</text>
<text x="102.00" y="492.50" font-size="20.3" text-anchor="start" textLength="199.25" lengthAdjust="spacing" fill="#1c1c1c" >geological background</text>
<text x="172.50" y="563.75" font-size="24.5" text-anchor="start" textLength="83.75" lengthAdjust="spacing" fill="#1c1c1c" >Factor2</text>
<text x="46.25" y="586.25" font-size="20.3" text-anchor="start" textLength="281.25" lengthAdjust="spacing" fill="#1c1c1c" >municipal wastewater disposal</text>
<text x="231.25" y="667.00" font-size="24.5" text-anchor="start" textLength="81.75" lengthAdjust="spacing" fill="#1c1c1c" >Factor3</text>
<text x="150.00" y="687.50" font-size="20.3" text-anchor="start" textLength="209.25" lengthAdjust="spacing" fill="#1c1c1c" >water–rock interaction</text>
<text x="268.75" y="735.50" font-size="24.5" text-anchor="start" textLength="82.50" lengthAdjust="spacing" fill="#1c1c1c" >Factor4</text>
<text x="195.70" y="761.25" font-size="20.3" text-anchor="start" textLength="233.80" lengthAdjust="spacing" fill="#1c1c1c" >geological environmental</text>
<text x="400.50" y="797.40" font-size="24.5" text-anchor="start" textLength="82.30" lengthAdjust="spacing" fill="#1c1c1c" >Factor5</text>
<text x="350.90" y="823.80" font-size="20.3" text-anchor="start" textLength="183.10" lengthAdjust="spacing" fill="#1c1c1c" >geological structure</text>
<text x="562.90" y="853.30" font-size="24.5" text-anchor="start" textLength="82.90" lengthAdjust="spacing" fill="#1c1c1c" >Factor6</text>
<text x="530.90" y="875.70" font-size="20.3" text-anchor="start" textLength="173.90" lengthAdjust="spacing" fill="#1c1c1c" >industrial emission</text>
<defs><linearGradient id="cb" x1="0" y1="0" x2="0" y2="1"><stop offset="0.000" stop-color="#2d4d80"/><stop offset="0.050" stop-color="#315795"/><stop offset="0.100" stop-color="#36609f"/><stop offset="0.150" stop-color="#3e6fae"/><stop offset="0.200" stop-color="#4a7ebb"/><stop offset="0.250" stop-color="#6497c8"/><stop offset="0.300" stop-color="#85b2d7"/><stop offset="0.350" stop-color="#a5cae3"/><stop offset="0.400" stop-color="#c5deec"/><stop offset="0.450" stop-color="#e2efef"/><stop offset="0.500" stop-color="#f5ebc0"/><stop offset="0.550" stop-color="#fbe09a"/><stop offset="0.600" stop-color="#fdd17f"/><stop offset="0.650" stop-color="#fdb96c"/><stop offset="0.700" stop-color="#fc9e5c"/><stop offset="0.750" stop-color="#f67c4a"/><stop offset="0.800" stop-color="#ea5739"/><stop offset="0.850" stop-color="#de4130"/><stop offset="0.900" stop-color="#d0302a"/><stop offset="0.950" stop-color="#bd2a28"/><stop offset="1.000" stop-color="#a82424"/></linearGradient></defs>
<rect x="929.3" y="411.8" width="27.30" height="259.80" fill="url(#cb)"/>
<path d="M929.3,411.8H963.6M956.6,411.8V671.6" stroke="#222" stroke-width="1" fill="none"/>
<line x1="956.6" y1="411.80" x2="963.6" y2="411.80" stroke="#222" stroke-width="1"/>
<text x="979.30" y="419.10" font-size="21" text-anchor="start" fill="#1c1c1c" >1.0</text>
<line x1="956.6" y1="437.78" x2="963.6" y2="437.78" stroke="#222" stroke-width="1"/>
<text x="979.30" y="445.08" font-size="21" text-anchor="start" fill="#1c1c1c" >0.8</text>
<line x1="956.6" y1="463.76" x2="963.6" y2="463.76" stroke="#222" stroke-width="1"/>
<text x="979.30" y="471.06" font-size="21" text-anchor="start" fill="#1c1c1c" >0.6</text>
<line x1="956.6" y1="489.74" x2="963.6" y2="489.74" stroke="#222" stroke-width="1"/>
<text x="979.30" y="497.04" font-size="21" text-anchor="start" fill="#1c1c1c" >0.4</text>
<line x1="956.6" y1="515.72" x2="963.6" y2="515.72" stroke="#222" stroke-width="1"/>
<text x="979.30" y="523.02" font-size="21" text-anchor="start" fill="#1c1c1c" >0.2</text>
<line x1="956.6" y1="541.70" x2="963.6" y2="541.70" stroke="#222" stroke-width="1"/>
<text x="979.30" y="549.00" font-size="21" text-anchor="start" fill="#1c1c1c" >0</text>
<line x1="956.6" y1="567.68" x2="963.6" y2="567.68" stroke="#222" stroke-width="1"/>
<text x="971.30" y="574.98" font-size="21" text-anchor="start" fill="#1c1c1c" >-</text>
<text x="979.30" y="574.98" font-size="21" text-anchor="start" fill="#1c1c1c" >0.2</text>
<line x1="956.6" y1="593.66" x2="963.6" y2="593.66" stroke="#222" stroke-width="1"/>
<text x="971.30" y="600.96" font-size="21" text-anchor="start" fill="#1c1c1c" >-</text>
<text x="979.30" y="600.96" font-size="21" text-anchor="start" fill="#1c1c1c" >0.4</text>
<line x1="956.6" y1="619.64" x2="963.6" y2="619.64" stroke="#222" stroke-width="1"/>
<text x="971.30" y="626.94" font-size="21" text-anchor="start" fill="#1c1c1c" >-</text>
<text x="979.30" y="626.94" font-size="21" text-anchor="start" fill="#1c1c1c" >0.6</text>
<line x1="956.6" y1="645.62" x2="963.6" y2="645.62" stroke="#222" stroke-width="1"/>
<text x="971.30" y="652.92" font-size="21" text-anchor="start" fill="#1c1c1c" >-</text>
<text x="979.30" y="652.92" font-size="21" text-anchor="start" fill="#1c1c1c" >0.8</text>
<line x1="956.6" y1="671.60" x2="963.6" y2="671.60" stroke="#222" stroke-width="1"/>
<text x="971.30" y="678.90" font-size="21" text-anchor="start" fill="#1c1c1c" >-</text>
<text x="979.30" y="678.90" font-size="21" text-anchor="start" fill="#1c1c1c" >1</text>
<text transform="translate(1023,408.2) rotate(90)" font-size="20.3" textLength="270.5" lengthAdjust="spacing" fill="#1c1c1c">Pearson correlation coefficient</text>
<text x="930.50" y="722.50" font-size="22.5" text-anchor="start" textLength="198.80" lengthAdjust="spacing" fill="#1c1c1c" >Factor contribution</text>
<line x1="930.5" y1="744.5" x2="978.8" y2="744.5" stroke="#d9d9de" stroke-width="1.0"/>
<text x="986.80" y="748.00" font-size="21" text-anchor="start" textLength="59.50" lengthAdjust="spacing" fill="#1c1c1c" >≤10%</text>
<line x1="930.5" y1="765.8" x2="978.8" y2="765.8" stroke="#f8d5c4" stroke-width="1.5"/>
<text x="986.80" y="772.00" font-size="21" text-anchor="start" textLength="101.80" lengthAdjust="spacing" fill="#1c1c1c" >10%–50%</text>
<line x1="930.5" y1="793.3" x2="978.8" y2="793.3" stroke="#84b94d" stroke-width="2.6"/>
<text x="988.80" y="800.00" font-size="21" text-anchor="start" textLength="101.80" lengthAdjust="spacing" fill="#1c1c1c" >50%–80%</text>
<line x1="930.5" y1="819.3" x2="978.8" y2="819.3" stroke="#5a5789" stroke-width="4.8"/>
<text x="988.80" y="823.80" font-size="21" text-anchor="start" textLength="59.30" lengthAdjust="spacing" fill="#1c1c1c" >≥80%</text>
</svg>
</body></html>
